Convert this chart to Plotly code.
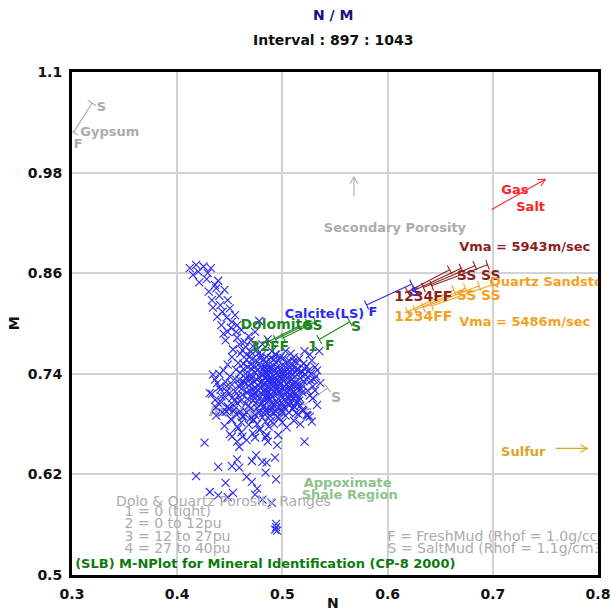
import math
import plotly.graph_objects as go

# ---- log samples, interval 897-1043 : (N, M) ----
log_points = [
    # upper-left arm
    (0.412, 0.866), (0.418, 0.870), (0.415, 0.858), (0.421, 0.849), (0.429, 0.860),
    (0.432, 0.866), (0.425, 0.868), (0.439, 0.851), (0.445, 0.840), (0.433, 0.828),
    (0.440, 0.833), (0.448, 0.828), (0.434, 0.819), (0.443, 0.814), (0.447, 0.807),
    (0.452, 0.802), (0.442, 0.798), (0.448, 0.790), (0.457, 0.783), (0.457, 0.798),
    (0.459, 0.775), (0.453, 0.769), (0.464, 0.778), (0.466, 0.763), (0.471, 0.757),
    (0.476, 0.769), (0.481, 0.775), (0.437, 0.842), (0.450, 0.818), (0.455, 0.810),
    (0.461, 0.792), (0.446, 0.780), (0.462, 0.768), (0.468, 0.785), (0.478, 0.803),
    (0.472, 0.773), (0.452, 0.760), (0.458, 0.753),
    (0.420, 0.862), (0.428, 0.853), (0.436, 0.846), (0.430, 0.838), (0.441, 0.822),
    (0.438, 0.808), (0.451, 0.795), (0.444, 0.788), (0.456, 0.790), (0.460, 0.764),
    (0.465, 0.772), (0.470, 0.780),
    # right-hand outliers
    (0.521, 0.767), (0.526, 0.763), (0.535, 0.767), (0.515, 0.745), (0.493, 0.763),
    (0.486, 0.781), (0.474, 0.790),
    # main cluster
    (0.470, 0.766), (0.480, 0.762), (0.490, 0.767), (0.498, 0.760), (0.508, 0.764),
    (0.463, 0.752), (0.475, 0.756), (0.484, 0.754), (0.492, 0.757), (0.500, 0.751),
    (0.506, 0.756), (0.514, 0.753),
    (0.456, 0.745), (0.467, 0.748), (0.476, 0.744), (0.483, 0.749), (0.489, 0.746),
    (0.496, 0.743), (0.503, 0.748), (0.510, 0.745), (0.519, 0.742),
    (0.440, 0.740), (0.450, 0.737), (0.460, 0.741), (0.470, 0.739), (0.478, 0.736),
    (0.485, 0.741), (0.492, 0.738), (0.499, 0.735), (0.505, 0.740), (0.512, 0.737),
    (0.522, 0.739),
    (0.436, 0.733), (0.446, 0.730), (0.455, 0.734), (0.463, 0.731), (0.471, 0.735),
    (0.479, 0.729), (0.486, 0.733), (0.493, 0.730), (0.500, 0.734), (0.507, 0.731),
    (0.515, 0.728), (0.527, 0.732),
    (0.440, 0.724), (0.452, 0.727), (0.461, 0.722), (0.468, 0.726), (0.475, 0.723),
    (0.482, 0.727), (0.489, 0.722), (0.495, 0.726), (0.502, 0.721), (0.509, 0.725),
    (0.518, 0.722),
    (0.433, 0.716), (0.447, 0.719), (0.458, 0.714), (0.466, 0.718), (0.473, 0.713),
    (0.480, 0.717), (0.487, 0.712), (0.494, 0.716), (0.500, 0.711), (0.508, 0.715),
    (0.516, 0.712), (0.526, 0.714),
    (0.442, 0.706), (0.455, 0.709), (0.465, 0.704), (0.472, 0.708), (0.479, 0.703),
    (0.486, 0.707), (0.492, 0.702), (0.499, 0.706), (0.507, 0.703), (0.514, 0.707),
    (0.449, 0.698), (0.460, 0.695), (0.470, 0.699), (0.478, 0.694), (0.485, 0.698),
    (0.492, 0.693), (0.499, 0.697), (0.506, 0.694), (0.520, 0.696),
    (0.437, 0.690), (0.451, 0.686), (0.463, 0.689), (0.473, 0.685), (0.481, 0.688),
    (0.489, 0.684), (0.497, 0.687), (0.511, 0.684), (0.524, 0.690),
    (0.445, 0.678), (0.458, 0.675), (0.468, 0.679), (0.479, 0.674), (0.487, 0.677),
    (0.504, 0.676), (0.528, 0.683),
    (0.450, 0.668), (0.462, 0.665), (0.472, 0.669), (0.484, 0.664), (0.496, 0.667),
    # dense core
    (0.481, 0.745), (0.488, 0.742), (0.495, 0.748), (0.502, 0.744), (0.486, 0.737),
    (0.493, 0.734), (0.480, 0.731), (0.497, 0.731), (0.504, 0.728), (0.490, 0.727),
    (0.483, 0.721), (0.497, 0.720), (0.504, 0.718), (0.511, 0.719), (0.489, 0.716),
    (0.477, 0.720), (0.484, 0.712), (0.496, 0.710), (0.503, 0.708), (0.510, 0.711),
    (0.490, 0.705), (0.482, 0.701), (0.496, 0.700), (0.511, 0.701), (0.470, 0.728),
    (0.474, 0.717), (0.467, 0.710), (0.505, 0.736), (0.512, 0.730), (0.517, 0.735),
    (0.466, 0.757), (0.473, 0.750), (0.479, 0.758), (0.487, 0.751), (0.494, 0.753),
    (0.501, 0.759), (0.509, 0.750), (0.516, 0.758), (0.523, 0.749),
    (0.459, 0.733), (0.465, 0.740), (0.474, 0.742), (0.482, 0.739), (0.489, 0.735),
    (0.496, 0.739), (0.503, 0.742), (0.509, 0.738), (0.516, 0.741), (0.525, 0.744),
    (0.458, 0.726), (0.464, 0.729), (0.473, 0.731), (0.477, 0.726), (0.484, 0.729),
    (0.491, 0.724), (0.498, 0.728), (0.506, 0.724), (0.513, 0.726), (0.520, 0.731),
    (0.529, 0.725),
    (0.455, 0.719), (0.462, 0.715), (0.469, 0.720), (0.476, 0.714), (0.483, 0.718),
    (0.490, 0.713), (0.497, 0.717), (0.505, 0.713), (0.512, 0.716), (0.519, 0.718),
    (0.531, 0.720),
    (0.453, 0.703), (0.460, 0.707), (0.468, 0.702), (0.475, 0.705), (0.482, 0.709),
    (0.489, 0.700), (0.495, 0.705), (0.502, 0.699), (0.510, 0.698), (0.517, 0.702),
    (0.456, 0.692), (0.466, 0.694), (0.474, 0.691), (0.482, 0.693), (0.488, 0.690),
    (0.494, 0.695), (0.503, 0.690), (0.515, 0.692),
    (0.461, 0.682), (0.469, 0.686), (0.476, 0.680), (0.484, 0.683), (0.492, 0.680),
    (0.500, 0.682), (0.517, 0.680),
    (0.469, 0.761), (0.477, 0.764), (0.485, 0.760), (0.494, 0.763), (0.503, 0.767),
    (0.511, 0.760), (0.528, 0.756), (0.531, 0.748), (0.520, 0.752),
    (0.444, 0.744), (0.448, 0.751), (0.441, 0.721), (0.445, 0.713), (0.437, 0.700),
    (0.454, 0.697),
    (0.485, 0.745), (0.491, 0.750), (0.498, 0.745), (0.507, 0.747), (0.479, 0.748),
    (0.488, 0.731), (0.495, 0.721), (0.502, 0.725), (0.509, 0.733), (0.486, 0.724),
    (0.470, 0.751), (0.465, 0.735), (0.476, 0.699), (0.489, 0.696), (0.505, 0.704),
    (0.513, 0.693), (0.532, 0.737), (0.536, 0.729), (0.529, 0.711), (0.533, 0.703),
    (0.524, 0.720),
    (0.478, 0.752), (0.482, 0.757), (0.489, 0.759), (0.496, 0.756), (0.504, 0.753),
    (0.511, 0.755), (0.480, 0.741), (0.487, 0.747), (0.493, 0.744), (0.500, 0.740),
    (0.507, 0.743), (0.514, 0.746), (0.476, 0.733), (0.483, 0.735), (0.490, 0.732),
    (0.497, 0.736), (0.503, 0.733), (0.510, 0.727), (0.479, 0.724), (0.486, 0.719),
    (0.493, 0.727), (0.500, 0.723), (0.507, 0.720), (0.514, 0.722), (0.478, 0.711),
    (0.485, 0.715), (0.492, 0.719), (0.499, 0.714), (0.506, 0.710), (0.513, 0.713),
    (0.481, 0.705), (0.488, 0.709), (0.494, 0.707), (0.501, 0.702), (0.508, 0.706),
    (0.516, 0.708), (0.519, 0.726), (0.523, 0.733), (0.527, 0.740), (0.521, 0.746),
    (0.533, 0.744), (0.530, 0.733), (0.471, 0.745), (0.469, 0.733), (0.472, 0.722),
    (0.471, 0.714), (0.463, 0.746), (0.461, 0.727),
    # left lobe
    (0.434, 0.739), (0.438, 0.729), (0.447, 0.725), (0.450, 0.717), (0.442, 0.713),
    (0.439, 0.705), (0.448, 0.701), (0.443, 0.694), (0.452, 0.685), (0.457, 0.677),
    (0.461, 0.670), (0.431, 0.717), (0.436, 0.709), (0.452, 0.711), (0.457, 0.705),
    (0.447, 0.695), (0.462, 0.689), (0.472, 0.685), (0.485, 0.694), (0.495, 0.688),
    (0.500, 0.694), (0.513, 0.705), (0.519, 0.697), (0.523, 0.691), (0.526, 0.689),
    # lower tail
    (0.459, 0.653), (0.466, 0.661), (0.426, 0.658), (0.452, 0.665), (0.457, 0.659),
    (0.474, 0.664), (0.478, 0.673), (0.485, 0.667), (0.486, 0.659), (0.495, 0.655),
    (0.521, 0.659), (0.457, 0.638), (0.475, 0.643), (0.493, 0.640),
    (0.418, 0.618), (0.439, 0.629), (0.452, 0.630), (0.459, 0.628), (0.471, 0.636),
    (0.481, 0.635), (0.485, 0.634), (0.484, 0.622), (0.466, 0.617), (0.471, 0.611),
    (0.446, 0.610), (0.431, 0.599), (0.439, 0.595), (0.453, 0.598), (0.448, 0.593),
    (0.476, 0.603), (0.474, 0.596), (0.494, 0.614), (0.481, 0.590), (0.490, 0.586),
    (0.494, 0.557), (0.493, 0.554), (0.495, 0.553), (0.494, 0.561),
]

# ---- reference mineral lines : (N, M) at fresh-mud end, (N, M) at salt-mud end ----
gypsum_line = [((0.3015, 1.028), (0.319, 1.063))]
anhydrite_line = [((0.521, 0.703), (0.543, 0.723))]
calcite_line = [((0.580, 0.822), (0.623, 0.847))]
dolomite_lines = [
    ((0.486, 0.778), (0.516, 0.797)),
    ((0.4935, 0.781), (0.524, 0.800)),
    ((0.501, 0.783), (0.5315, 0.802)),
    ((0.535, 0.781), (0.564, 0.802)),
]
quartz_5943_lines = [
    ((0.619, 0.838), (0.659, 0.864)),
    ((0.626, 0.840), (0.670, 0.866)),
    ((0.634, 0.843), (0.683, 0.869)),
    ((0.642, 0.845), (0.695, 0.870)),
]
quartz_5486_lines = [
    ((0.619, 0.814), (0.663, 0.840)),
    ((0.626, 0.816), (0.674, 0.842)),
    ((0.634, 0.819), (0.687, 0.845)),
    ((0.642, 0.821), (0.699, 0.846)),
]

# direction arrows : tail, head
secondary_porosity_arrow = ((0.568, 0.952), (0.568, 0.975))
gas_salt_arrow = ((0.699, 0.936), (0.750, 0.972))
sulfur_arrow = ((0.760, 0.651), (0.790, 0.651))

# axis ranges and ticks
x_range = [0.3, 0.8]
y_range = [0.5, 1.1]
x_ticks = [0.3, 0.4, 0.5, 0.6, 0.7, 0.8]
y_ticks = [0.5, 0.62, 0.74, 0.86, 0.98, 1.1]

# ---- styling ----
FONT = "DejaVu Sans"
GRAY = "#acacac"
MAROON = "#8e1f1f"
ORANGE = "#f5a11f"
GOLD = "#dca526"
RED = "#fa2424"
BLUE = "#2a2af5"
GREEN = "#1f861f"
LIGHT_GREEN = "#8cc48c"
DARK_GREEN = "#0b7a0b"

W, H = 611, 615
MARGIN = dict(l=72, r=13, t=72, b=40)
PX_X = (W - MARGIN["l"] - MARGIN["r"]) / (x_range[1] - x_range[0])
PX_Y = (H - MARGIN["t"] - MARGIN["b"]) / (y_range[1] - y_range[0])


def segments_with_ticks(lines, half=5.0):
    """Polyline coords for each line plus short perpendicular end ticks."""
    xs, ys = [], []
    for (x0, y0), (x1, y1) in lines:
        xs += [x0, x1, None]
        ys += [y0, y1, None]
        dx, dy = (x1 - x0) * PX_X, (y1 - y0) * PX_Y
        L = math.hypot(dx, dy) or 1.0
        nx, ny = -dy / L, dx / L
        for (px, py) in ((x0, y0), (x1, y1)):
            ox, oy = nx * half / PX_X, ny * half / PX_Y
            xs += [px - ox, px + ox, None]
            ys += [py - oy, py + oy, None]
    return xs, ys


def arrow_coords(tail, head, barb=8.0, ang=28):
    (x0, y0), (x1, y1) = tail, head
    dx, dy = (x1 - x0) * PX_X, (y1 - y0) * PX_Y
    a = math.atan2(dy, dx)
    xs, ys = [x0, x1, None], [y0, y1, None]
    for s in (1, -1):
        b = a + math.pi - s * math.radians(ang)
        xs += [x1, x1 + barb * math.cos(b) / PX_X, None]
        ys += [y1, y1 + barb * math.sin(b) / PX_Y, None]
    return xs, ys


def line_trace(coords, color, width=1.1):
    xs, ys = coords
    return go.Scatter(x=xs, y=ys, mode="lines", line=dict(color=color, width=width),
                      hoverinfo="skip", showlegend=False)


def text_trace(items, color, size=13, bold=True, pos="middle center"):
    return go.Scatter(
        x=[i[1] for i in items], y=[i[2] for i in items], text=[i[0] for i in items],
        mode="text", textposition=pos, cliponaxis=True,
        textfont=dict(family=FONT, size=size, color=color,
                      weight="bold" if bold else "normal"),
        hoverinfo="skip", showlegend=False)


fig = go.Figure()

# labels that sit beneath the log samples
fig.add_trace(line_trace(segments_with_ticks(anhydrite_line), GRAY))
fig.add_trace(text_trace([("Anhydrite", 0.467, 0.694), ("S", 0.551, 0.711),
                          ("F", 0.524, 0.692)], GRAY, size=14))

# log samples
fig.add_trace(go.Scatter(
    x=[p[0] for p in log_points], y=[p[1] for p in log_points], mode="markers",
    marker=dict(symbol="x-thin", size=8, line=dict(color=BLUE, width=1.1)),
    showlegend=False, name="N-M"))

# mineral lines
fig.add_trace(line_trace(segments_with_ticks(gypsum_line), GRAY))
fig.add_trace(line_trace(segments_with_ticks(dolomite_lines), GREEN))
fig.add_trace(line_trace(segments_with_ticks(calcite_line), BLUE))
fig.add_trace(line_trace(segments_with_ticks(quartz_5943_lines), MAROON))
fig.add_trace(line_trace(segments_with_ticks(quartz_5486_lines), ORANGE))

# direction arrows
fig.add_trace(line_trace(arrow_coords(*secondary_porosity_arrow), GRAY))
fig.add_trace(line_trace(arrow_coords(*gas_salt_arrow), RED))
fig.add_trace(line_trace(arrow_coords(*sulfur_arrow), GOLD))

# mineral labels
fig.add_trace(text_trace([("Gypsum", 0.336, 1.028), ("S", 0.328, 1.057), ("F", 0.306, 1.013),
                          ("Secondary Porosity", 0.607, 0.913)], GRAY, size=13))
fig.add_trace(text_trace([("Gas", 0.721, 0.958), ("Salt", 0.736, 0.938)], RED, size=13))
fig.add_trace(text_trace([("Sulfur", 0.729, 0.646)], GOLD, size=13))
fig.add_trace(text_trace([("Calcite(LS)", 0.540, 0.810), ("F", 0.586, 0.813),
                          ("S", 0.626, 0.837)], BLUE, size=13))
fig.add_trace(text_trace([("Dolomite", 0.494, 0.798), ("SS", 0.529, 0.797), ("S", 0.570, 0.795),
                          ("32FF", 0.488, 0.771), ("1", 0.529, 0.771), ("F", 0.545, 0.772)],
                         GREEN, size=14))
fig.add_trace(text_trace([("1234FF", 0.634, 0.831), ("SS", 0.675, 0.856), ("SS", 0.698, 0.856)],
                         MAROON, size=14))
fig.add_trace(text_trace([("1234FF", 0.634, 0.807), ("SS", 0.675, 0.832), ("SS", 0.698, 0.832)],
                         ORANGE, size=14))
fig.add_trace(text_trace([("Vma = 5943m/sec", 0.668, 0.890)], MAROON, size=13, pos="middle right"))
fig.add_trace(text_trace([("Quartz Sandstone", 0.697, 0.849),
                          ("Vma = 5486m/sec", 0.668, 0.801)], ORANGE, size=13, pos="middle right"))
fig.add_trace(text_trace([("Appoximate", 0.562, 0.609), ("Shale Region", 0.564, 0.594)],
                         LIGHT_GREEN, size=13))

# legend-style notes
fig.add_trace(text_trace([("Dolo & Quartz Porosity Ranges", 0.444, 0.587)], GRAY, size=14, bold=False))
fig.add_trace(text_trace([("1 = 0 (tight)", 0.350, 0.574), ("2 = 0 to 12pu", 0.350, 0.560),
                          ("3 = 12 to 27pu", 0.350, 0.545), ("4 = 27 to 40pu", 0.350, 0.530)],
                         GRAY, size=14, bold=False, pos="middle right"))
fig.add_trace(text_trace([("F = FreshMud (Rhof = 1.0g/cc)", 0.600, 0.545),
                          ("S = SaltMud (Rhof = 1.1g/cm3)", 0.600, 0.530)],
                         GRAY, size=14, bold=False, pos="middle right"))
fig.add_trace(text_trace([("(SLB) M-NPlot for Mineral Identification (CP-8 2000)", 0.303, 0.512)],
                         DARK_GREEN, size=13, pos="middle right"))

axis_common = dict(
    showgrid=True, gridcolor="#d2d2d2", gridwidth=1.5, zeroline=False,
    showline=True, mirror=True, linecolor="black", linewidth=3,
    ticks="outside", ticklen=4, tickcolor="rgba(0,0,0,0)", automargin=False,
    tickfont=dict(family=FONT, size=14, color="#111111", weight="bold"),
)
fig.update_xaxes(range=x_range, tickvals=x_ticks, ticktext=[f"{v:g}" for v in x_ticks], **axis_common)
fig.update_yaxes(range=y_range, tickvals=y_ticks, ticktext=[f"{v:g}" for v in y_ticks], **axis_common)

title_font = dict(family=FONT, size=14, color="#111111", weight="bold")
fig.update_layout(
    width=W, height=H, margin=MARGIN,
    plot_bgcolor="white", paper_bgcolor="white",
    font=dict(family=FONT),
    annotations=[
        dict(text="N / M", x=0.497, y=1.113, xref="paper", yref="paper", showarrow=False,
             xanchor="center", yanchor="middle",
             font=dict(family=FONT, size=14, color="#14147a", weight="bold")),
        dict(text="Interval : 897 : 1043", x=0.497, y=1.064, xref="paper", yref="paper",
             xanchor="center", yanchor="middle", showarrow=False, font=title_font),
        dict(text="N", x=0.496, y=-0.056, xref="paper", yref="paper", showarrow=False,
             xanchor="center", yanchor="middle", font=title_font),
        dict(text="M", x=-0.110, y=0.501, xref="paper", yref="paper", showarrow=False,
             xanchor="center", yanchor="middle", textangle=-90, font=title_font),
    ],
)

fig.write_html("out.html")
